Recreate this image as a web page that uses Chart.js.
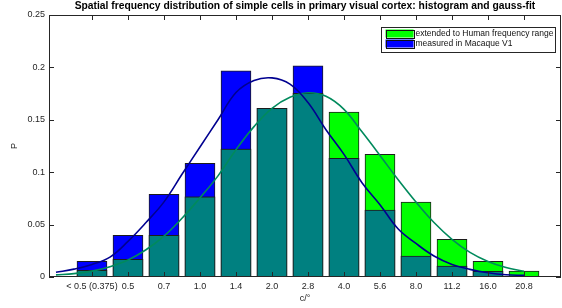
<!DOCTYPE html>
<html><head><meta charset="utf-8">
<script src="https://cdn.jsdelivr.net/npm/chart.js@4/dist/chart.umd.min.js"></script>
<style>html,body{margin:0;padding:0;background:#fff;}#wrap{width:562px;height:308px;}</style>
</head><body><div id="wrap"><canvas id="c" width="562" height="308"></canvas></div>
<script>
const categories = ['< 0.5 (0.375)','0.5','0.7','1.0','1.4','2.0','2.8','4.0','5.6','8.0','11.2','16.0','20.8'];
const macaqueP = [0.015,0.0398,0.079,0.1085,0.1968,0.161,0.2015,0.1132,0.0639,0.020,0.0105,0.0053,0.0];
const humanP   = [0.0064,0.0169,0.0398,0.0765,0.122,0.161,0.1753,0.1574,0.117,0.0716,0.036,0.015,0.0057];
const fitX = [-1,-0.5,0,0.5,1,1.5,2,2.5,3,3.5,4,4.5,5,5.5,6,6.5,7,7.5,8,8.5,9,9.5,10,10.5,11,11.5,12];
const macaqueFit = [0.0045,0.0075,0.012,0.019,0.034,0.052,0.0717,0.098,0.124,0.150,0.176,0.1875,0.190,0.184,0.1665,0.1405,0.117,0.090,0.069,0.046,0.032,0.020,0.012,0.0073,0.0040,0.0021,0.0016];
const humanFit   = [0.0020,0.0032,0.0056,0.0098,0.0162,0.026,0.039,0.056,0.0755,0.0965,0.1215,0.1435,0.161,0.1715,0.1758,0.1725,0.160,0.1385,0.116,0.093,0.0715,0.052,0.036,0.0235,0.0148,0.009,0.0055];
const yTicks = [0,0.05,0.1,0.15,0.2,0.25];
const titleText = 'Spatial frequency distribution of simple cells in primary visual cortex: histogram and gauss-fit';
const legendItems = [
  {label:'extended to Human frequency range', color:'#00ff00'},
  {label:'measured in Macaque V1', color:'#0000ff'}
];

const FONT = '"Liberation Sans", Arial, sans-serif';
const overlap = macaqueP.map((v,i)=>Math.min(v, humanP[i]));
const barPts = arr => arr.map((v,i)=>({x:i, y:v}));
const fitPts = arr => arr.map((v,i)=>({x:fitX[i], y:v}));
const EDGE = '#1c1c1c';
const TXT = '#262626';

const axesBox = {
  id:'axesBox',
  afterDatasetsDraw(chart){
    const {ctx, chartArea:a, scales:{x,y}} = chart;
    ctx.save();
    ctx.strokeStyle = '#262626';
    ctx.lineWidth = 1;
    ctx.beginPath();
    x.ticks.forEach(t=>{
      const px = Math.round(x.getPixelForValue(t.value)) + 0.5;
      ctx.moveTo(px, a.bottom); ctx.lineTo(px, a.bottom-5);
      ctx.moveTo(px, a.top); ctx.lineTo(px, a.top+5);
    });
    y.ticks.forEach(t=>{
      const py = Math.round(y.getPixelForValue(t.value)) + 0.5;
      ctx.moveTo(a.left, py); ctx.lineTo(a.left+5, py);
      ctx.moveTo(a.right, py); ctx.lineTo(a.right-5, py);
    });
    ctx.stroke();
    ctx.strokeRect(a.left+0.5, a.top+0.5, a.right-a.left-1, a.bottom-a.top-1);
    ctx.restore();
  },
  afterDraw(chart){
    const {ctx, chartArea:a} = chart;
    ctx.save();
    ctx.font = '8.5px ' + FONT;
    const tw = Math.max(...legendItems.map(it=>ctx.measureText(it.label).width));
    const sw = 28, padL = 4.5, gap = 2, padR = 1.5;
    const w = padL + sw + gap + tw + padR;
    const h = 24.5;
    const right = a.right - 6;
    const left = right - w;
    const top = a.top + 11.5;
    ctx.fillStyle = '#fff';
    ctx.fillRect(left, top, w, h);
    ctx.strokeStyle = '#262626';
    ctx.lineWidth = 1;
    ctx.strokeRect(Math.round(left)+0.5, Math.round(top)+0.5, Math.round(w), Math.round(h));
    legendItems.forEach((it,i)=>{
      const cy = top + 7 + i*10;
      ctx.fillStyle = it.color;
      ctx.fillRect(left+padL, cy-4, sw, 8);
      ctx.strokeStyle = '#111';
      ctx.strokeRect(Math.round(left+padL)+0.5, Math.round(cy-4)+0.5, sw, 8);
      ctx.fillStyle = '#111';
      ctx.textBaseline = 'middle';
      ctx.textAlign = 'left';
      ctx.fillText(it.label, left+padL+sw+gap, cy+0.5);
    });
    ctx.restore();
  }
};

new Chart(document.getElementById('c'), {
  type:'bar',
  data:{ datasets:[
    {type:'line', label:'Macaque gauss-fit', data:fitPts(macaqueFit), borderColor:'#000090', borderWidth:1.6, pointRadius:0, fill:false, tension:0.4, order:0},
    {type:'line', label:'Human gauss-fit', data:fitPts(humanFit), borderColor:'#008a5c', borderWidth:1.6, pointRadius:0, fill:false, tension:0.4, order:1},
    {label:'overlap', data:barPts(overlap), backgroundColor:'#008080', borderColor:EDGE, borderWidth:1, borderSkipped:false, order:2},
    {label:legendItems[0].label, data:barPts(humanP), backgroundColor:'#00ff00', borderColor:EDGE, borderWidth:1, borderSkipped:false, order:3},
    {label:legendItems[1].label, data:barPts(macaqueP), backgroundColor:'#0000ff', borderColor:EDGE, borderWidth:1, borderSkipped:false, order:4}
  ]},
  options:{
    responsive:false, animation:false, devicePixelRatio:1,
    layout:{padding:{left:0,right:1,top:0,bottom:0}},
    datasets:{bar:{grouped:false, barThickness:30}},
    plugins:{
      legend:{display:false},
      tooltip:{enabled:false},
      title:{display:true, text:titleText, fullSize:false, color:'#000',
        font:{family:FONT, size:10.3, weight:'bold', lineHeight:1.0}, padding:{top:1,bottom:3.7}}
    },
    scales:{
      x:{type:'linear', offset:false, min:-1.194, max:13.028,
        afterBuildTicks:s=>{ s.ticks = categories.map((c,i)=>({value:i})); },
        afterFit:s=>{ s.height = 31; },
        ticks:{callback:v=>categories[v], autoSkip:false, maxRotation:0, minRotation:0, padding:4.5, color:TXT, font:{family:FONT,size:9}},
        grid:{display:false, drawTicks:false}, border:{display:false},
        title:{display:true, text:'c/°', color:TXT, font:{family:FONT,size:9,lineHeight:1.2}, padding:{top:0,bottom:3.6}}
      },
      y:{min:0, max:0.25,
        afterBuildTicks:s=>{ s.ticks = yTicks.map(v=>({value:v})); },
        afterFit:s=>{ s.width = 49; },
        ticks:{callback:v=>String(v), padding:4, color:TXT, font:{family:FONT,size:9}},
        grid:{display:false, drawTicks:false}, border:{display:false},
        title:{display:true, text:'P', color:TXT, font:{family:FONT,size:9,lineHeight:1.2}, padding:{top:9.6,bottom:0}}
      }
    }
  },
  plugins:[axesBox]
});
</script>
</body></html>
